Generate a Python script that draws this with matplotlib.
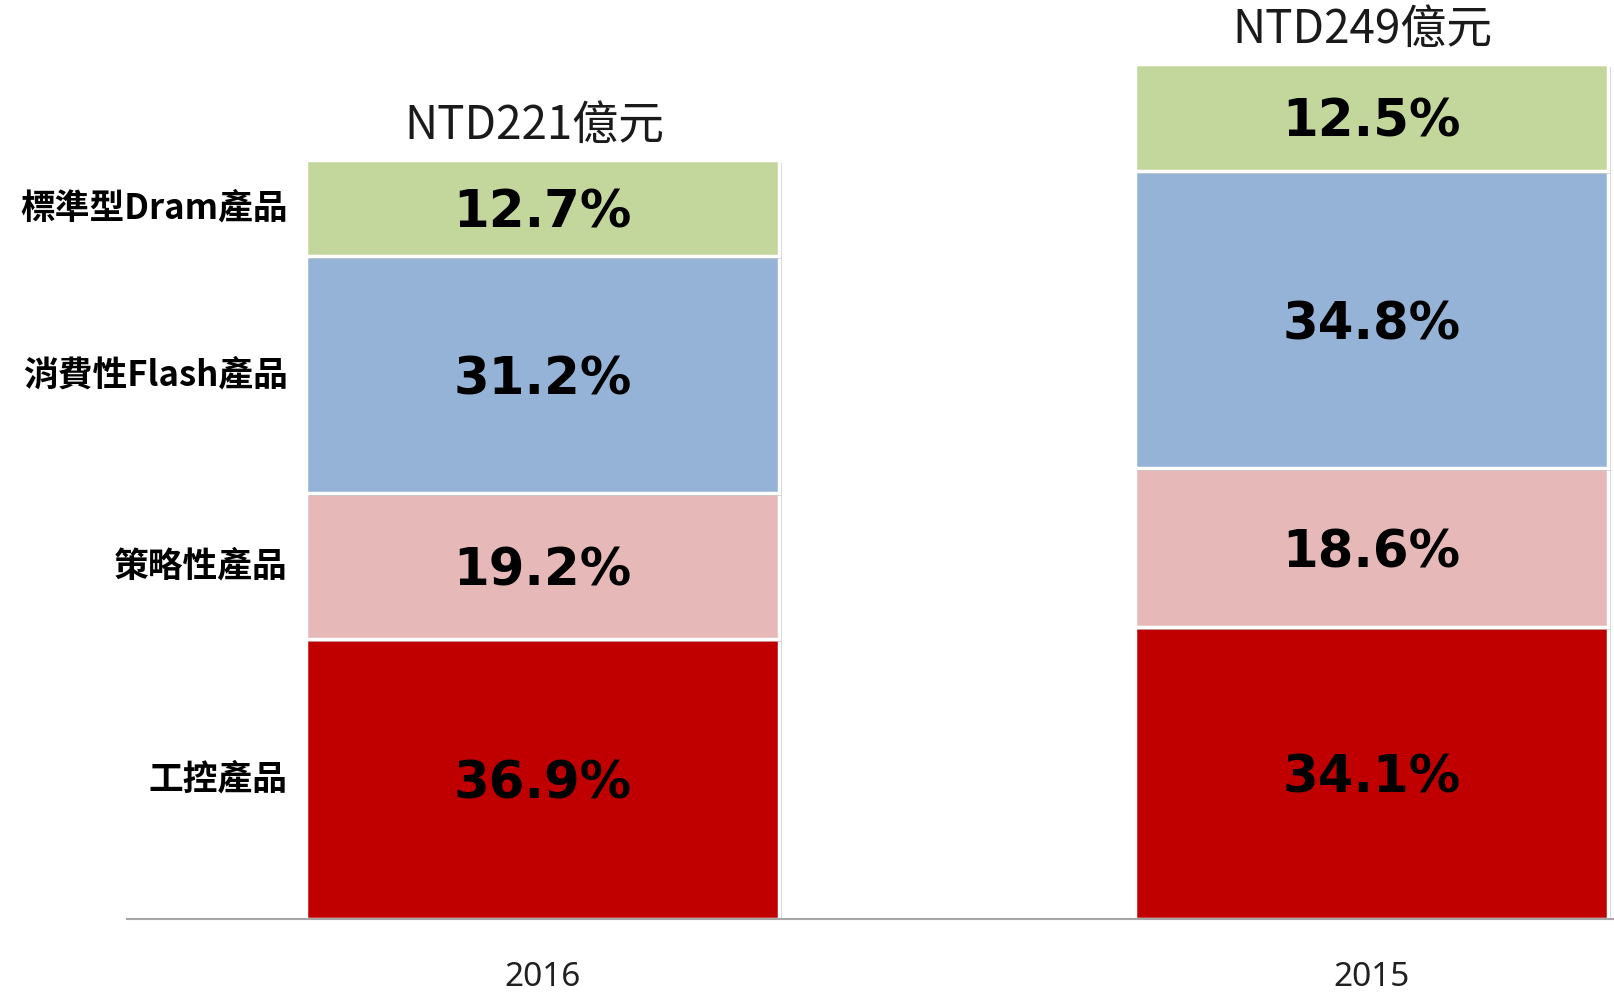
import matplotlib
matplotlib.use('Agg')
import matplotlib.pyplot as plt
import matplotlib.patheffects as pe

plt.rcParams['font.family'] = ['Noto Sans CJK TC', 'DejaVu Sans']

# Data
years = ['2016', '2015']
totals = [221, 249]  # NTD 億元
categories = ['工控產品', '策略性產品', '消費性Flash產品', '標準型Dram產品']
shares = {
    '工控產品': [36.9, 34.1],
    '策略性產品': [19.2, 18.6],
    '消費性Flash產品': [31.2, 34.8],
    '標準型Dram產品': [12.7, 12.5],
}
colors = ['#C00000', '#E6B9B8', '#95B3D7', '#C3D69B']

fig = plt.figure(figsize=(16.14, 9.98), dpi=100)
ax = fig.add_axes([127 / 1614, 79 / 998, 1 - 127 / 1614, 919 / 998])

x = [0, 1]
width = 0.571
bottoms = [0.0, 0.0]
shadow = [pe.SimplePatchShadow(offset=(2, -2), shadow_rgbFace='#a0a0a0', alpha=0.5), pe.Normal()]

for cat, color in zip(categories, colors):
    vals = [s / 100 * t for s, t in zip(shares[cat], totals)]
    bars = ax.bar(x, vals, width, bottom=bottoms, color=color,
                  edgecolor='white', linewidth=2.5, zorder=2)
    for b in bars:
        b.set_path_effects(shadow)
    for i in range(len(x)):
        ax.text(x[i], bottoms[i] + vals[i] / 2, f'{shares[cat][i]:.1f}%',
                ha='center', va='center_baseline', fontsize=37, fontweight='bold',
                family='DejaVu Sans', color='black', zorder=3)
    # category label to the left of first bar
    ax.text(x[0] - width / 2 - 0.022, bottoms[0] + vals[0] / 2, cat,
            ha='right', va='center', fontsize=25, fontweight='bold', color='black')
    bottoms = [b + v for b, v in zip(bottoms, vals)]

# totals on top
for i in range(len(x)):
    ax.text(x[i] - 0.01, totals[i] + 10, f'NTD{totals[i]}億元', ha='center',
            va='center', fontsize=33, color='#1a1a1a', clip_on=False)

ax.set_xlim(-0.5015, 1.293)
ax.set_ylim(0, 267.6)
ax.set_xticks(x)
ax.set_xticklabels(years, fontsize=24, color='#202020', family=['Noto Sans', 'DejaVu Sans'])
ax.tick_params(axis='x', length=0, pad=30)
ax.set_yticks([])
for s in ['top', 'right', 'left']:
    ax.spines[s].set_visible(False)
ax.spines['bottom'].set_color('#a6a6a6')
ax.spines['bottom'].set_linewidth(1.5)

fig.savefig('out.png', dpi=100)
